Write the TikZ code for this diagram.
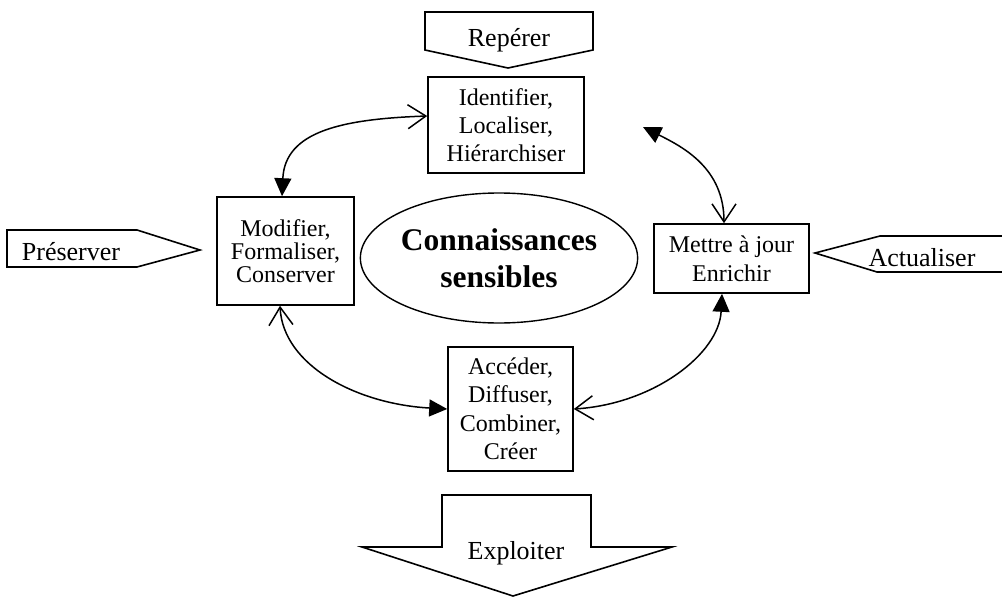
\documentclass[tikz,border=0pt]{standalone}
\usepackage{fontspec}
\setmainfont{Liberation Serif}
\usetikzlibrary{arrows.meta,shapes.geometric}
\begin{document}
\begin{tikzpicture}[x=1pt,y=-1pt,
  box/.style={draw,line width=1.6pt,inner sep=0pt,align=center,font=\fontsize{24}{28}\selectfont},
  lbl/.style={font=\fontsize{26}{30}\selectfont,inner sep=0pt,anchor=base},
  shp/.style={draw,line width=1.6pt,line join=miter},
  link/.style={line width=1.5pt,{Straight Barb[length=18pt,width=24pt]}-{Triangle[length=18pt,width=17pt]}},
]
\useasboundingbox (0,0) rectangle (1002,597);

% boxes
\node[box,minimum width=156pt,minimum height=96pt] (Iden) at (506,125) {Identifier,\\Localiser,\\Hiérarchiser};
\node[box,minimum width=137pt,minimum height=108pt,font=\fontsize{24}{23}\selectfont] (Mod) at (285.5,251) {Modifier,\\Formaliser,\\Conserver};
\node[box,minimum width=155pt,minimum height=69pt,font=\fontsize{24}{29}\selectfont] (Met) at (731.5,258.5) {Mettre à jour\\Enrichir};
\node[box,minimum width=125pt,minimum height=124pt,font=\fontsize{24}{28.5}\selectfont] (Acc) at (510.5,409) {Accéder,\\Diffuser,\\Combiner,\\Créer};
\node[draw,ellipse,line width=1.4pt,inner sep=0pt,minimum width=264pt,minimum height=130pt,align=center,font=\bfseries\fontsize{31.5}{37}\selectfont] (Con) at (499,258) {Connaissances\\sensibles};

% pentagon arrows
\draw[shp] (425,12) -- (593,12) -- (593,50) -- (508,68) -- (425,50) -- cycle;
\node[lbl] (Rep) at (509,46) {Repérer};
\draw[shp] (7,230) -- (137,230) -- (200,250) -- (137,267) -- (7,267) -- cycle;
\node[lbl] (Pre) at (71,260) {Préserver};
\draw[shp] (1002,236) -- (880,236) -- (815,253) -- (877,272) -- (1002,272);
\node[lbl] (Act) at (922,266) {Actualiser};
\draw[shp] (442,495) -- (591,495) -- (591,547) -- (672,547) -- (513,596) -- (362,547) -- (442,547) -- cycle;
\node[lbl] (Exp) at (516,559) {Exploiter};

% connectors
\coordinate (free) at (643,127);
\draw[link] ([yshift=9pt]Iden.west) .. controls +(-85,3) and +(3,-65) .. ([xshift=-3.5pt]Mod.north);
\draw[link] ([xshift=-5.5pt]Mod.south) .. controls +(3,60) and +(-90,-5) .. (Acc.west);
\draw[link] (Acc.east) .. controls +(80,-5) and +(-3,60) .. ([xshift=-9.5pt]Met.south);
\draw[link] ([xshift=-7.5pt]Met.north) .. controls +(0,-55) and +(40,20) .. (free);
\end{tikzpicture}
\end{document}
